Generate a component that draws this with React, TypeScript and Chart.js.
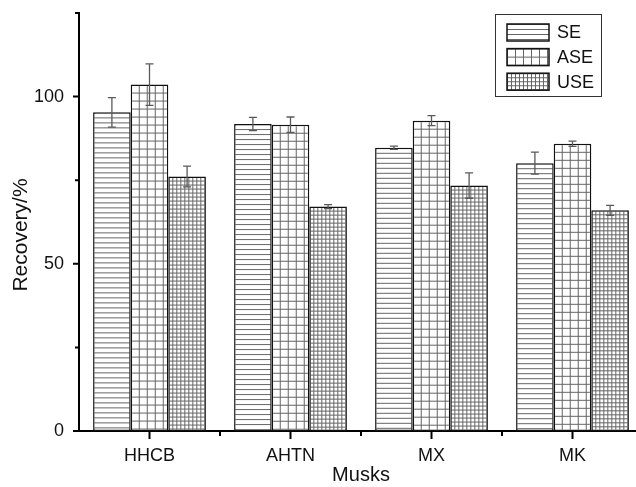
import { useEffect, useRef } from 'react';
import { Chart, registerables } from 'chart.js';

Chart.register(...registerables);

// Recovery (%) of four musks under three extraction methods, mean ± error
const categories = ['HHCB', 'AHTN', 'MX', 'MK'];
const seriesNames = ['SE', 'ASE', 'USE'];
const seValues = [95.3, 91.8, 84.7, 80.1];
const seErrors = [4.4, 2.0, 0.5, 3.3];
const aseValues = [103.6, 91.6, 92.8, 85.9];
const aseErrors = [6.2, 2.3, 1.5, 0.8];
const useValues = [76.1, 67.1, 73.4, 66.0];
const useErrors = [3.1, 0.6, 3.8, 1.5];
const yTickValues = [0, 25, 50, 75, 100, 125];
const yLabelledTicks = [0, 50, 100];
const xTitle = 'Musks';
const yTitle = 'Recovery/%';

const FONT = '"Liberation Sans", Arial, Helvetica, sans-serif';
const CANVAS_W = 650;
const CANVAS_H = 487;
const CAT_PCT = 0.8;

type Kind = 'h' | 'grid' | 'fine';
const kinds: Kind[] = ['h', 'grid', 'fine'];
const valuesBySeries = [seValues, aseValues, useValues];
const errorsBySeries = [seErrors, aseErrors, useErrors];

const tileCache: Partial<Record<Kind, HTMLCanvasElement>> = {};

function makeTile(kind: Kind): HTMLCanvasElement {
  if (tileCache[kind]) return tileCache[kind]!;
  const c = document.createElement('canvas');
  const size = kind === 'h' ? [4, 5] : kind === 'grid' ? [8, 8] : [4, 4];
  c.width = size[0];
  c.height = size[1];
  const g = c.getContext('2d')!;
  g.fillStyle = '#ffffff';
  g.fillRect(0, 0, c.width, c.height);
  g.strokeStyle = '#666666';
  g.lineWidth = 1;
  g.beginPath();
  g.moveTo(0, 0.5);
  g.lineTo(c.width, 0.5);
  if (kind !== 'h') {
    g.moveTo(0.5, 0);
    g.lineTo(0.5, c.height);
  }
  g.stroke();
  tileCache[kind] = c;
  return c;
}

function patternAt(ctx: CanvasRenderingContext2D, kind: Kind, x: number, y: number) {
  const p = ctx.createPattern(makeTile(kind), 'repeat');
  if (!p) return '#ffffff';
  p.setTransform(new DOMMatrix().translate(x, y));
  return p;
}

function barPattern(c: any, seriesIndex: number) {
  const chart = c.chart as Chart;
  const xs: any = chart.scales.x;
  const ys: any = chart.scales.y;
  if (!xs || !ys || c.dataIndex == null) return '#ffffff';
  const i = c.dataIndex as number;
  const cw = (xs.right - xs.left) / categories.length;
  const bw = (cw * CAT_PCT) / seriesNames.length;
  const left = xs.getPixelForValue(i) + (seriesIndex - 1) * bw - bw / 2;
  const top = ys.getPixelForValue(valuesBySeries[seriesIndex][i]);
  return patternAt(chart.ctx, kinds[seriesIndex], left, top);
}

const decorations = {
  id: 'decorations',
  afterDatasetsDraw(chart: Chart) {
    const ctx = chart.ctx;
    const ys: any = chart.scales.y;
    ctx.save();
    ctx.strokeStyle = '#5a5a5a';
    ctx.lineWidth = 1.3;
    chart.data.datasets.forEach((_, di) => {
      const meta = chart.getDatasetMeta(di);
      meta.data.forEach((el: any, i: number) => {
        const v = valuesBySeries[di][i];
        const e = errorsBySeries[di][i];
        const yT = ys.getPixelForValue(v + e);
        const yB = ys.getPixelForValue(v - e);
        const x = el.x;
        const cap = 4;
        ctx.beginPath();
        ctx.moveTo(x, yT);
        ctx.lineTo(x, yB);
        ctx.moveTo(x - cap, yT);
        ctx.lineTo(x + cap, yT);
        ctx.moveTo(x - cap, yB);
        ctx.lineTo(x + cap, yB);
        ctx.stroke();
      });
    });
    ctx.restore();
  },
  afterDraw(chart: Chart) {
    const ctx = chart.ctx;
    const xs: any = chart.scales.x;
    const ys: any = chart.scales.y;
    const area = chart.chartArea;
    ctx.save();
    ctx.strokeStyle = '#000000';
    ctx.lineWidth = 2;
    ctx.beginPath();
    // x axis tick marks: long at category centres, short between categories
    const cw = (xs.right - xs.left) / categories.length;
    categories.forEach((_, i) => {
      const cx = xs.getPixelForValue(i);
      ctx.moveTo(cx, area.bottom);
      ctx.lineTo(cx, area.bottom + 8);
      const bx = xs.left + cw * (i + 1);
      ctx.moveTo(bx, area.bottom);
      ctx.lineTo(bx, area.bottom + 5);
    });
    // y axis tick marks
    yTickValues.forEach((v) => {
      const py = ys.getPixelForValue(v);
      const len = yLabelledTicks.includes(v) ? 6 : 4;
      ctx.moveTo(area.left, py);
      ctx.lineTo(area.left - len, py);
    });
    ctx.stroke();

    // y axis title, rotated
    ctx.save();
    ctx.translate(21, 235);
    ctx.rotate(-Math.PI / 2);
    ctx.font = `21px ${FONT}`;
    ctx.fillStyle = '#111111';
    ctx.textAlign = 'center';
    ctx.textBaseline = 'middle';
    ctx.fillText(yTitle, 0, 0);
    ctx.restore();

    // legend box
    const bx = 495.5;
    const by = 14.5;
    const bwid = 106;
    const bh = 82;
    ctx.lineWidth = 1;
    ctx.strokeStyle = '#333333';
    ctx.strokeRect(bx, by, bwid, bh);
    ctx.font = `18px ${FONT}`;
    ctx.textBaseline = 'middle';
    ctx.textAlign = 'left';
    seriesNames.forEach((name, si) => {
      const sx = 507;
      const sy = 24 + si * 24.6;
      const sw = 42;
      const sh = 17;
      ctx.fillStyle = patternAt(ctx, kinds[si], sx, sy) as any;
      ctx.fillRect(sx, sy, sw, sh);
      ctx.lineWidth = 1.5;
      ctx.strokeStyle = '#111111';
      ctx.strokeRect(sx, sy, sw, sh);
      ctx.fillStyle = '#111111';
      ctx.fillText(name, 557, sy + sh / 2 + 1);
    });
    ctx.restore();
  },
};

export default function App() {
  const canvasRef = useRef<HTMLCanvasElement | null>(null);

  useEffect(() => {
    const canvas = canvasRef.current;
    if (!canvas) return;
    const datasets = seriesNames.map((name, si) => ({
      label: name,
      data: valuesBySeries[si],
      backgroundColor: (c: any) => barPattern(c, si),
      borderColor: '#111111',
      borderWidth: 1.5,
      borderSkipped: false as const,
      categoryPercentage: CAT_PCT,
      barPercentage: 1.0,
    }));

    const chart = new Chart(canvas, {
      type: 'bar',
      data: { labels: categories, datasets },
      plugins: [decorations],
      options: {
        responsive: false,
        animation: false,
        devicePixelRatio: 1,
        layout: { padding: { top: 13, right: 7, left: 0, bottom: 0 } },
        plugins: {
          legend: { display: false },
          tooltip: { enabled: false },
        },
        scales: {
          x: {
            type: 'category',
            grid: { display: false },
            border: { display: true, color: '#000000', width: 2 },
            ticks: {
              color: '#111111',
              font: { family: FONT, size: 18 },
              padding: 6,
              maxRotation: 0,
            },
            title: {
              display: true,
              text: xTitle,
              color: '#111111',
              font: { family: FONT, size: 20 },
              padding: { top: 0, bottom: 0 },
            },
            afterFit: (scale: any) => {
              scale.height = 56;
              scale.paddingLeft = 0;
              scale.paddingRight = 0;
            },
          },
          y: {
            type: 'linear',
            min: 0,
            max: 125,
            grid: { display: false },
            border: { display: true, color: '#000000', width: 2 },
            ticks: {
              stepSize: 25,
              color: '#111111',
              font: { family: FONT, size: 18 },
              padding: 7,
              callback: (v: any) => (yLabelledTicks.includes(Number(v)) ? String(v) : ''),
            },
            title: { display: false },
            afterFit: (scale: any) => {
              scale.width = 79;
              scale.paddingTop = 0;
              scale.paddingBottom = 0;
            },
          },
        },
      },
    });
    return () => chart.destroy();
  }, []);

  return (
    <div
      style={{
        position: 'absolute',
        left: 0,
        top: 0,
        width: 636,
        height: CANVAS_H,
        overflow: 'hidden',
        background: '#ffffff',
      }}
    >
      <canvas ref={canvasRef} width={CANVAS_W} height={CANVAS_H} style={{ display: 'block' }} />
    </div>
  );
}
